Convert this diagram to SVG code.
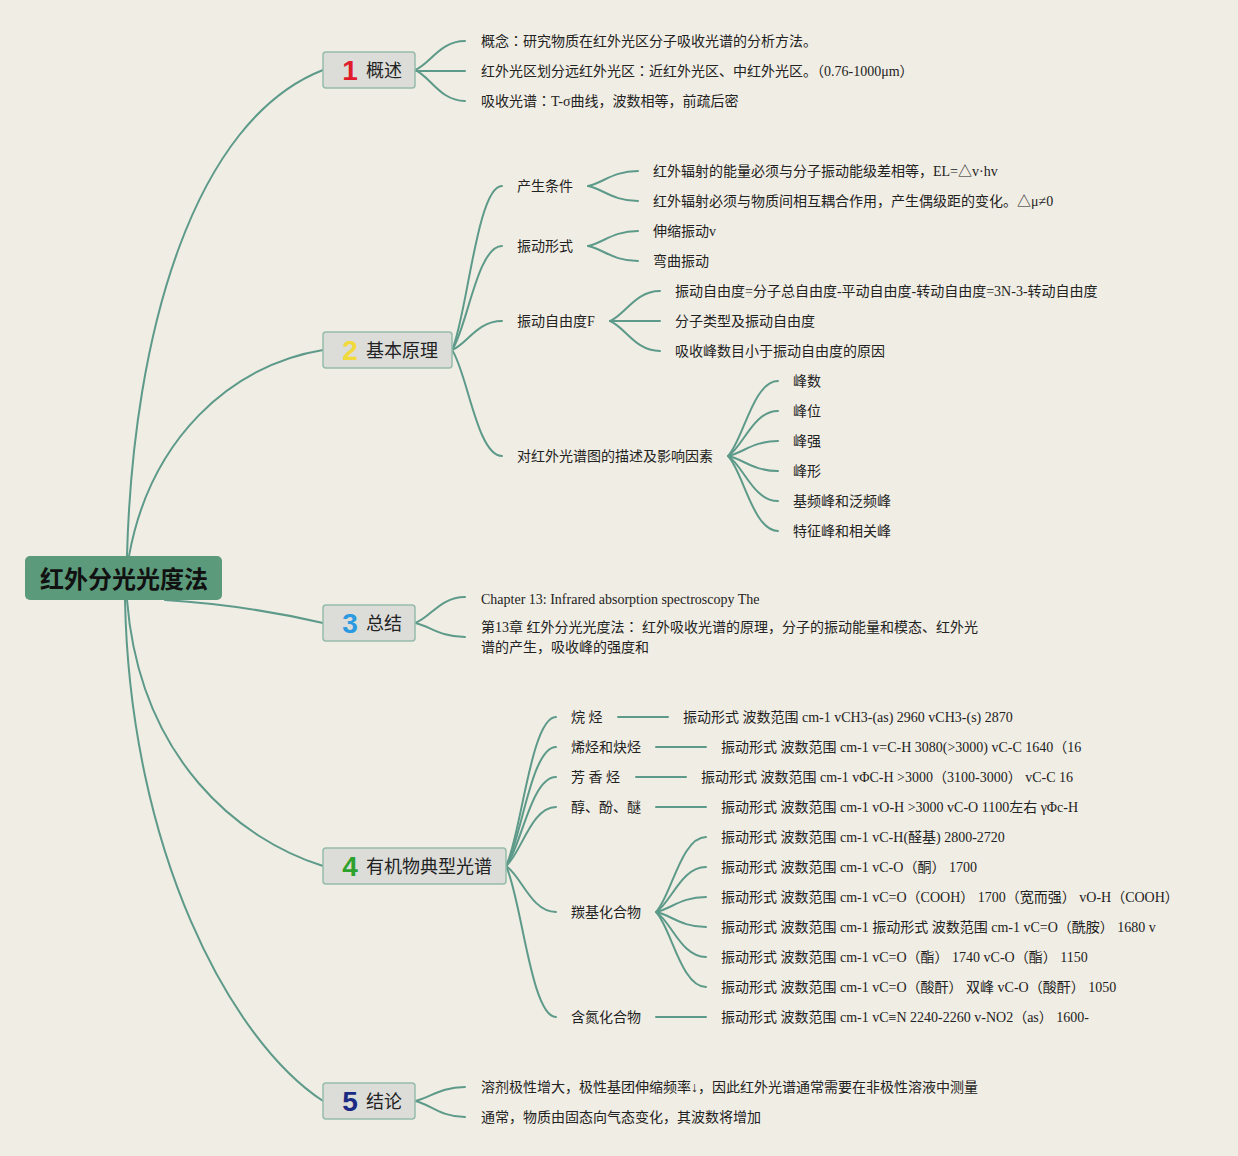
<svg xmlns="http://www.w3.org/2000/svg" width="1238" height="1156" viewBox="0 0 1238 1156">
<style>
.bg{fill:#f0ede4}
.c{fill:none;stroke:#5d9a8a;stroke-width:2;stroke-linecap:round}
.box{fill:#dcdcd9;stroke:#95bcab;stroke-width:1.5}
.t{font-family:"Liberation Serif","Noto Sans CJK SC",serif;font-size:14px;fill:#222}
.jp{font-family:"Noto Sans CJK JP",sans-serif}
.lab{font-family:"Noto Sans CJK SC",sans-serif;font-size:18px;fill:#222}
.num{font-family:"Liberation Sans",sans-serif;font-size:28px;font-weight:bold}
.root{font-family:"Noto Sans CJK SC",sans-serif;font-size:24px;font-weight:bold;fill:#111}
</style>
<rect class="bg" x="0" y="0" width="1238" height="1156"/>
<g id="connectors">
<path class="c" d="M127,556 C133,330 195,120 323,70"/>
<path class="c" d="M129,556 C150,440 230,365 323,350"/>
<path class="c" d="M165,600 C230,604 280,613 323,623"/>
<path class="c" d="M127,600 C140,760 240,840 323,866"/>
<path class="c" d="M125,600 C130,850 230,1040 323,1101"/>
<path class="c" d="M415,70 C430,64 440,41 465,41"/>
<path class="c" d="M415,71 L465,71"/>
<path class="c" d="M415,70 C430,76 440,101 465,101"/>
<path class="c" d="M452,350 C467,317 477,186 502,186"/>
<path class="c" d="M452,350 C467,329 477,246 502,246"/>
<path class="c" d="M452,350 C467,344 477,321 502,321"/>
<path class="c" d="M452,350 C467,371 477,456 502,456"/>
<path class="c" d="M588,186 C603,183 613,171 638,171"/>
<path class="c" d="M588,186 C603,189 613,201 638,201"/>
<path class="c" d="M588,246 C603,243 613,231 638,231"/>
<path class="c" d="M588,246 C603,249 613,261 638,261"/>
<path class="c" d="M610,321 C625,315 635,291 660,291"/>
<path class="c" d="M610,321 L660,321"/>
<path class="c" d="M610,321 C625,327 635,351 660,351"/>
<path class="c" d="M728,456 C743,441 753,381 778,381"/>
<path class="c" d="M728,456 C743,447 753,411 778,411"/>
<path class="c" d="M728,456 C743,453 753,441 778,441"/>
<path class="c" d="M728,456 C743,459 753,471 778,471"/>
<path class="c" d="M728,456 C743,465 753,501 778,501"/>
<path class="c" d="M728,456 C743,471 753,531 778,531"/>
<path class="c" d="M415,623 C430,618 440,597 465,597"/>
<path class="c" d="M415,623 C430,626 440,637 465,637"/>
<path class="c" d="M506,866 C521,836 531,717 556,717"/>
<path class="c" d="M506,866 C521,842 531,747 556,747"/>
<path class="c" d="M506,866 C521,848 531,777 556,777"/>
<path class="c" d="M506,866 C521,854 531,807 556,807"/>
<path class="c" d="M506,866 C521,875 531,912 556,912"/>
<path class="c" d="M506,866 C521,896 531,1017 556,1017"/>
<path class="c" d="M618,717 L668,717"/>
<path class="c" d="M656,747 L706,747"/>
<path class="c" d="M636,777 L686,777"/>
<path class="c" d="M656,807 L706,807"/>
<path class="c" d="M656,1017 L706,1017"/>
<path class="c" d="M656,912 C671,897 681,837 706,837"/>
<path class="c" d="M656,912 C671,903 681,867 706,867"/>
<path class="c" d="M656,912 C671,909 681,897 706,897"/>
<path class="c" d="M656,912 C671,915 681,927 706,927"/>
<path class="c" d="M656,912 C671,921 681,957 706,957"/>
<path class="c" d="M656,912 C671,927 681,987 706,987"/>
<path class="c" d="M415,1101 C430,1098 440,1087 465,1087"/>
<path class="c" d="M415,1101 C430,1104 440,1117 465,1117"/>
</g>
<g id="root">
<rect x="25" y="556" width="197" height="44" rx="5" fill="#5b9a7a"/>
<text class="root" x="124" y="588" text-anchor="middle">红外分光光度法</text>
</g>
<g id="n1">
<rect class="box" x="323" y="52" width="92" height="36" rx="3"/>
<text class="num" x="350" y="80" text-anchor="middle" fill="#e01c2c">1</text>
<text class="lab" x="366" y="77">概述</text>
</g>
<g id="n1-children">
<text class="t" x="481" y="46">概念<tspan class="jp">：</tspan>研究物质在红外光区分子吸收光谱的分析方法。</text>
<text class="t" x="481" y="76">红外光区划分远红外光区<tspan class="jp">：</tspan>近红外光区、中红外光区。（0.76-1000μm）</text>
<text class="t" x="481" y="106">吸收光谱<tspan class="jp">：</tspan>T-σ曲线，波数相等，前疏后密</text>
</g>
<g id="n2">
<rect class="box" x="323" y="332" width="129" height="36" rx="3"/>
<text class="num" x="350" y="360" text-anchor="middle" fill="#f2d93c">2</text>
<text class="lab" x="366" y="357">基本原理</text>
</g>
<g id="n2-children">
<text class="t" x="517" y="191">产生条件</text>
<text class="t" x="653" y="176">红外辐射的能量必须与分子振动能级差相等，EL=△v·hv</text>
<text class="t" x="653" y="206">红外辐射必须与物质间相互耦合作用，产生偶级距的变化。△μ≠0</text>
<text class="t" x="517" y="251">振动形式</text>
<text class="t" x="653" y="236">伸缩振动v</text>
<text class="t" x="653" y="266">弯曲振动</text>
<text class="t" x="517" y="326">振动自由度F</text>
<text class="t" x="675" y="296">振动自由度=分子总自由度-平动自由度-转动自由度=3N-3-转动自由度</text>
<text class="t" x="675" y="326">分子类型及振动自由度</text>
<text class="t" x="675" y="356">吸收峰数目小于振动自由度的原因</text>
<text class="t" x="517" y="461">对红外光谱图的描述及影响因素</text>
<text class="t" x="793" y="386">峰数</text>
<text class="t" x="793" y="416">峰位</text>
<text class="t" x="793" y="446">峰强</text>
<text class="t" x="793" y="476">峰形</text>
<text class="t" x="793" y="506">基频峰和泛频峰</text>
<text class="t" x="793" y="536">特征峰和相关峰</text>
</g>
<g id="n3">
<rect class="box" x="323" y="605" width="92" height="36" rx="3"/>
<text class="num" x="350" y="633" text-anchor="middle" fill="#2b9ae0">3</text>
<text class="lab" x="366" y="630">总结</text>
</g>
<g id="n3-children">
<text class="t" x="481" y="604">Chapter 13: Infrared absorption spectroscopy The</text>
<text class="t" x="481" y="632">第13章 红外分光光度法<tspan class="jp">：</tspan> 红外吸收光谱的原理，分子的振动能量和模态、红外光</text>
<text class="t" x="481" y="652">谱的产生，吸收峰的强度和</text>
</g>
<g id="n4">
<rect class="box" x="323" y="848" width="183" height="36" rx="3"/>
<text class="num" x="350" y="876" text-anchor="middle" fill="#2ea12e">4</text>
<text class="lab" x="366" y="873">有机物典型光谱</text>
</g>
<g id="n4-children">
<text class="t" x="571" y="722">烷 烃</text>
<text class="t" x="683" y="722">振动形式 波数范围 cm-1 vCH3-(as) 2960 vCH3-(s) 2870</text>
<text class="t" x="571" y="752">烯烃和炔烃</text>
<text class="t" x="721" y="752">振动形式 波数范围 cm-1 v=C-H 3080(&gt;3000) vC-C 1640（16</text>
<text class="t" x="571" y="782">芳 香 烃</text>
<text class="t" x="701" y="782">振动形式 波数范围 cm-1 vΦC-H &gt;3000（3100-3000） vC-C 16</text>
<text class="t" x="571" y="812">醇、酚、醚</text>
<text class="t" x="721" y="812">振动形式 波数范围 cm-1 vO-H &gt;3000 vC-O 1100左右 γΦc-H</text>
<text class="t" x="571" y="917">羰基化合物</text>
<text class="t" x="721" y="842">振动形式 波数范围 cm-1 vC-H(醛基) 2800-2720</text>
<text class="t" x="721" y="872">振动形式 波数范围 cm-1 vC-O（酮） 1700</text>
<text class="t" x="721" y="902">振动形式 波数范围 cm-1 vC=O（COOH） 1700（宽而强） vO-H（COOH）</text>
<text class="t" x="721" y="932">振动形式 波数范围 cm-1 振动形式 波数范围 cm-1 vC=O（酰胺） 1680 v</text>
<text class="t" x="721" y="962">振动形式 波数范围 cm-1 vC=O（酯） 1740 vC-O（酯） 1150</text>
<text class="t" x="721" y="992">振动形式 波数范围 cm-1 vC=O（酸酐） 双峰 vC-O（酸酐） 1050</text>
<text class="t" x="571" y="1022">含氮化合物</text>
<text class="t" x="721" y="1022">振动形式 波数范围 cm-1 vC≡N 2240-2260 v-NO2（as） 1600-</text>
</g>
<g id="n5">
<rect class="box" x="323" y="1083" width="92" height="36" rx="3"/>
<text class="num" x="350" y="1111" text-anchor="middle" fill="#1b2a82">5</text>
<text class="lab" x="366" y="1108">结论</text>
</g>
<g id="n5-children">
<text class="t" x="481" y="1092">溶剂极性增大，极性基团伸缩频率↓，因此红外光谱通常需要在非极性溶液中测量</text>
<text class="t" x="481" y="1122">通常，物质由固态向气态变化，其波数将增加</text>
</g>
</svg>
